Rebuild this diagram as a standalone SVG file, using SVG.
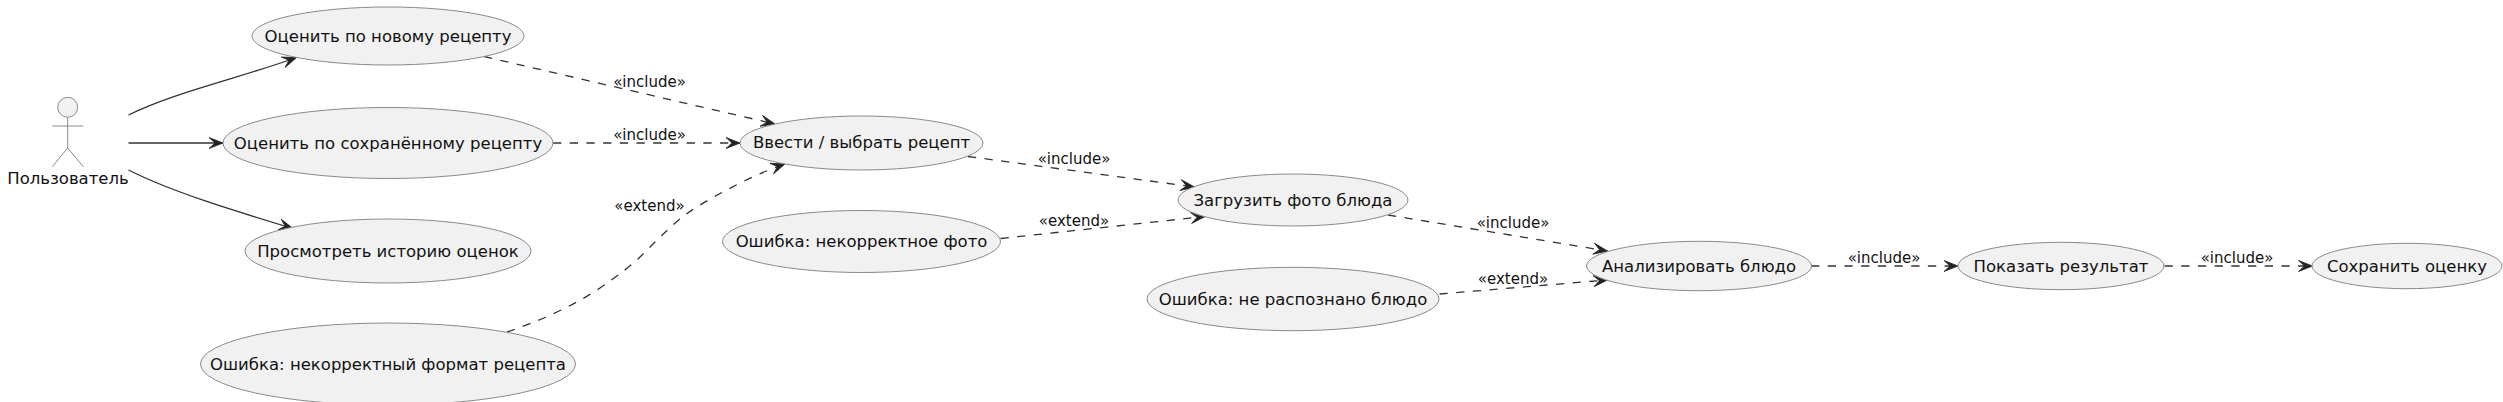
<svg xmlns="http://www.w3.org/2000/svg" width="2503" height="402" viewBox="0 0 2503 402">
<defs>
<style>
.uc{fill:#F1F1F1;stroke:#8a8a8a;stroke-width:1}
text{font-family:"DejaVu Sans",sans-serif;fill:#111;text-anchor:middle}
.t{font-size:16.5px}
.l{font-size:15px}
.c{fill:none;stroke:#333;stroke-width:1.3}
.d{stroke-dasharray:8.3 8.4}
.a{fill:none;stroke:#8a8a8a;stroke-width:1}
</style>
<marker id="arr" markerUnits="userSpaceOnUse" markerWidth="16" markerHeight="14" refX="15" refY="7" orient="auto" viewBox="0 0 16 14">
<path d="M15,7 L1,1.5 L7,7 L1,12.5 Z" fill="#222" stroke="#222" stroke-width="0.8"/>
</marker>
</defs>
<rect width="2503" height="402" fill="#fff"/>
<g id="connectors">
<path class="c" marker-end="url(#arr)" d="M128.5,115 C175,92 240,78 296.5,57.5"/>
<path class="c" marker-end="url(#arr)" d="M128.5,143 L223,143"/>
<path class="c" marker-end="url(#arr)" d="M128.5,170 C172,192 235,211 293,228.5"/>
<path class="c d" marker-end="url(#arr)" d="M484,56.5 L775,124"/>
<path class="c d" marker-end="url(#arr)" d="M553,143 L740,143"/>
<path class="c d" marker-end="url(#arr)" d="M507,332 C540,321 575,305 600,288 C620,274 632,265 640,257 C652,245 662,235 673,225 C682,217 690,211 700,205 C715,196 750,176 785,164"/>
<path class="c d" marker-end="url(#arr)" d="M968,156.5 L1194.5,187"/>
<path class="c d" marker-end="url(#arr)" d="M1000.5,238.5 L1205,216.5"/>
<path class="c d" marker-end="url(#arr)" d="M1388,215 L1607.5,251"/>
<path class="c d" marker-end="url(#arr)" d="M1439.5,294 L1607.5,280"/>
<path class="c d" marker-end="url(#arr)" d="M1811,266 L1958,266"/>
<path class="c d" marker-end="url(#arr)" d="M2164.5,266 L2312.5,266"/>
<text class="l" x="649.5" y="86.5">«include»</text>
<text class="l" x="649.5" y="139.5">«include»</text>
<text class="l" x="649.5" y="210.5">«extend»</text>
<text class="l" x="1074" y="163.5">«include»</text>
<text class="l" x="1074" y="226">«extend»</text>
<text class="l" x="1513" y="228">«include»</text>
<text class="l" x="1513" y="283.5">«extend»</text>
<text class="l" x="1884" y="262.5">«include»</text>
<text class="l" x="2237" y="262.5">«include»</text>
</g>
<g id="actor">
<circle cx="67.7" cy="107.3" r="10" fill="#F1F1F1" stroke="#8a8a8a" stroke-width="1"/>
<path class="a" d="M67.7,117.5 V148 M52.3,126 H83.3 M67.7,148 L52.3,166.7 M67.7,148 L83.3,166.7"/>
<text class="t" x="68" y="183.5">Пользователь</text>
</g>
<g id="uc1"><ellipse class="uc" cx="388" cy="36" rx="136" ry="29"/><text class="t" x="388" y="41.5">Оценить по новому рецепту</text></g>
<g id="uc2"><ellipse class="uc" cx="388" cy="143" rx="165" ry="35.5"/><text class="t" x="388" y="148.5">Оценить по сохранённому рецепту</text></g>
<g id="uc3"><ellipse class="uc" cx="388" cy="251" rx="143" ry="32"/><text class="t" x="388" y="256.5">Просмотреть историю оценок</text></g>
<g id="uc4"><ellipse class="uc" cx="388" cy="364" rx="187.5" ry="41"/><text class="t" x="388" y="369.5">Ошибка: некорректный формат рецепта</text></g>
<g id="uc5"><ellipse class="uc" cx="861.5" cy="143" rx="121.5" ry="27"/><text class="t" x="861.5" y="148">Ввести / выбрать рецепт</text></g>
<g id="uc6"><ellipse class="uc" cx="861.5" cy="241.5" rx="139" ry="31"/><text class="t" x="861.5" y="247">Ошибка: некорректное фото</text></g>
<g id="uc7"><ellipse class="uc" cx="1293" cy="200" rx="115" ry="26"/><text class="t" x="1293" y="205.5">Загрузить фото блюда</text></g>
<g id="uc8"><ellipse class="uc" cx="1293" cy="299" rx="146" ry="31.7"/><text class="t" x="1293" y="304.5">Ошибка: не распознано блюдо</text></g>
<g id="uc9"><ellipse class="uc" cx="1699" cy="266" rx="112.5" ry="24.7"/><text class="t" x="1699" y="271.5">Анализировать блюдо</text></g>
<g id="uc10"><ellipse class="uc" cx="2061" cy="266" rx="103" ry="23.7"/><text class="t" x="2061" y="271.5">Показать результат</text></g>
<g id="uc11"><ellipse class="uc" cx="2407" cy="266" rx="95" ry="22.7"/><text class="t" x="2407" y="271.5">Сохранить оценку</text></g>
</svg>
